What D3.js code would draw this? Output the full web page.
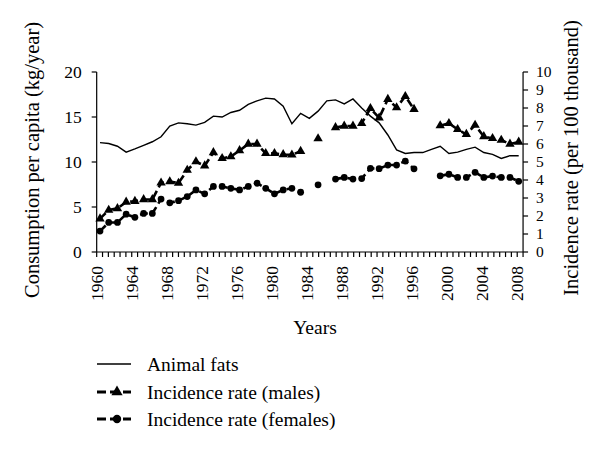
<!DOCTYPE html>
<html><head><meta charset="utf-8">
<script src="https://cdn.jsdelivr.net/npm/d3@7"></script>
<style>
body{margin:0;background:#fff;}
text{font-family:"Liberation Serif","Times New Roman",serif;fill:#000;}
</style></head>
<body><svg id="c" width="600" height="449"></svg>
<script>
const years = d3.range(1960, 2009);
const animalFats = [12.15,12.05,11.75,11.1,11.45,11.85,12.25,12.8,14.0,14.35,14.25,14.1,14.4,15.1,15.0,15.5,15.75,16.4,16.8,17.1,17.0,16.2,14.25,15.4,14.85,15.65,16.8,16.9,16.45,17.0,16.0,15.1,14.35,13.0,11.35,10.95,11.05,11.05,11.4,11.75,10.95,11.1,11.4,11.65,11.05,10.85,10.4,10.7,10.7];
const males = [1.85,2.33,2.42,2.78,2.82,2.92,2.92,3.84,3.91,3.83,4.55,5.02,4.79,5.53,5.2,5.3,5.64,6.0,6.0,5.48,5.48,5.42,5.4,5.6,null,6.3,null,6.92,7.0,7.0,7.15,7.98,7.45,8.49,8.02,8.65,7.93,null,null,7.02,7.15,6.81,6.54,7.05,6.42,6.31,6.22,6.0,6.11];
const females = [1.16,1.64,1.64,2.1,1.93,2.14,2.14,2.94,2.73,2.85,3.08,3.45,3.23,3.64,3.64,3.54,3.45,3.64,3.82,3.54,3.23,3.45,3.54,3.32,null,3.73,null,4.05,4.14,4.05,4.08,4.65,4.63,4.83,4.83,5.05,4.62,null,null,4.23,4.32,4.14,4.14,4.43,4.14,4.22,4.14,4.14,3.93];
const xLabels = d3.range(1960, 2009, 4);
const leftTicks = [0,5,10,15,20];
const rightTicks = d3.range(0, 11);
const legendLabels = ["Animal fats","Incidence rate (males)","Incidence rate (females)"];

const svg = d3.select("#c");
const fs = 17.5;
const axisLo = 1959.62, axisHi = 2008.5;
const x = d3.scaleLinear().domain([1960, 2008]).range([100, 518.7]);
const yL = d3.scaleLinear().domain([0, 20]).range([252, 72]);
const yR = d3.scaleLinear().domain([0, 10]).range([252, 72]);

// axes
const nT = 73;
const xTicks = d3.range(nT + 1).map(i => axisLo + i * (axisHi - axisLo) / nT);
const gx = svg.append("g").attr("transform", "translate(0,252)");
gx.append("line").attr("x1", x(axisLo)).attr("x2", x(axisHi)).attr("stroke", "#000").attr("stroke-width", 1.2);
gx.selectAll("line.t").data(xTicks).enter().append("line").attr("class","t")
  .attr("x1", d => x(d)).attr("x2", d => x(d)).attr("y1", 0).attr("y2", 5).attr("stroke", "#000").attr("stroke-width", 1.2);
gx.selectAll("text").data(xLabels).enter().append("text")
  .attr("transform", (d, i) => `translate(${x(xTicks[i * 6])},14) rotate(-90)`)
  .attr("text-anchor", "end").attr("dy", "0.35em").attr("font-size", fs).text(d => d);

const gl = svg.append("g").attr("transform", `translate(${x(axisLo)},0)`);
gl.append("line").attr("y1", yL(0)).attr("y2", yL(20)).attr("stroke", "#000").attr("stroke-width", 1.2);
gl.selectAll("line.t").data(leftTicks).enter().append("line").attr("class","t")
  .attr("x1", -5).attr("x2", 0).attr("y1", d => yL(d)).attr("y2", d => yL(d)).attr("stroke", "#000").attr("stroke-width", 1.2);
gl.selectAll("text").data(leftTicks).enter().append("text")
  .attr("x", -15).attr("y", d => yL(d)).attr("dy", "0.35em").attr("text-anchor", "end").attr("font-size", fs).text(d => d);

const gr = svg.append("g").attr("transform", `translate(${x(axisHi)},0)`);
gr.append("line").attr("y1", yR(0)).attr("y2", yR(10)).attr("stroke", "#000").attr("stroke-width", 1.2);
gr.selectAll("line.t").data(rightTicks).enter().append("line").attr("class","t")
  .attr("x1", 0).attr("x2", 5).attr("y1", d => yR(d)).attr("y2", d => yR(d)).attr("stroke", "#000").attr("stroke-width", 1.2);
gr.selectAll("text").data(rightTicks).enter().append("text")
  .attr("x", 13).attr("y", d => yR(d)).attr("dy", "0.35em").attr("text-anchor", "start").attr("font-size", 15.5).text(d => d);

// axis titles
svg.append("text").attr("transform", "translate(32,160) rotate(-90)").attr("text-anchor", "middle")
  .attr("dy", "0.35em").attr("font-size", 20.5).text("Consumption per capita (kg/year)");
svg.append("text").attr("transform", "translate(571,158) rotate(-90)").attr("text-anchor", "middle")
  .attr("dy", "0.35em").attr("font-size", 20.5).text("Incidence rate (per 100 thousand)");
svg.append("text").attr("x", 315).attr("y", 327).attr("text-anchor", "middle").attr("dy", "0.35em")
  .attr("font-size", 19.5).text("Years");

// series
const fatLine = d3.line().x((d, i) => x(years[i])).y(d => yL(d));
svg.append("path").datum(animalFats).attr("d", fatLine).attr("fill", "none").attr("stroke", "#000").attr("stroke-width", 1.4);

const dash = "8,4";
function series(vals, sym, sz) {
  const ln = d3.line().defined(d => d != null).x((d, i) => x(years[i])).y(d => yR(d));
  svg.append("path").datum(vals).attr("d", ln).attr("fill", "none").attr("stroke", "#000")
    .attr("stroke-width", 2.6).attr("stroke-dasharray", dash);
  const pts = vals.map((v, i) => ({ yr: years[i], v })).filter(d => d.v != null);
  svg.selectAll(null).data(pts).enter().append("path")
    .attr("d", d3.symbol().type(sym).size(sz))
    .attr("transform", d => `translate(${x(d.yr)},${yR(d.v)})`).attr("fill", "#000");
}
series(males, d3.symbolTriangle, 38);
series(females, d3.symbolCircle, 36);

// legend
const lg = svg.append("g");
const lx0 = 97, lx1 = 131, lxText = 147;
const ly = [364, 392, 419];
lg.append("line").attr("x1", lx0).attr("x2", lx1).attr("y1", ly[0]).attr("y2", ly[0]).attr("stroke", "#000").attr("stroke-width", 1.4);
[[d3.symbolTriangle, ly[1]], [d3.symbolCircle, ly[2]]].forEach(([s, yy]) => {
  lg.append("line").attr("x1", lx0).attr("x2", lx1).attr("y1", yy).attr("y2", yy).attr("stroke", "#000")
    .attr("stroke-width", 3).attr("stroke-dasharray", "9,4");
  lg.append("path").attr("d", d3.symbol().type(s).size(55)).attr("transform", `translate(${(lx0 + lx1) / 2 + 3},${yy})`).attr("fill", "#000");
});
lg.selectAll("text").data(legendLabels).enter().append("text")
  .attr("x", lxText).attr("y", (d, i) => ly[i]).attr("dy", "0.35em").attr("font-size", 19.5).text(d => d);
</script></body></html>
